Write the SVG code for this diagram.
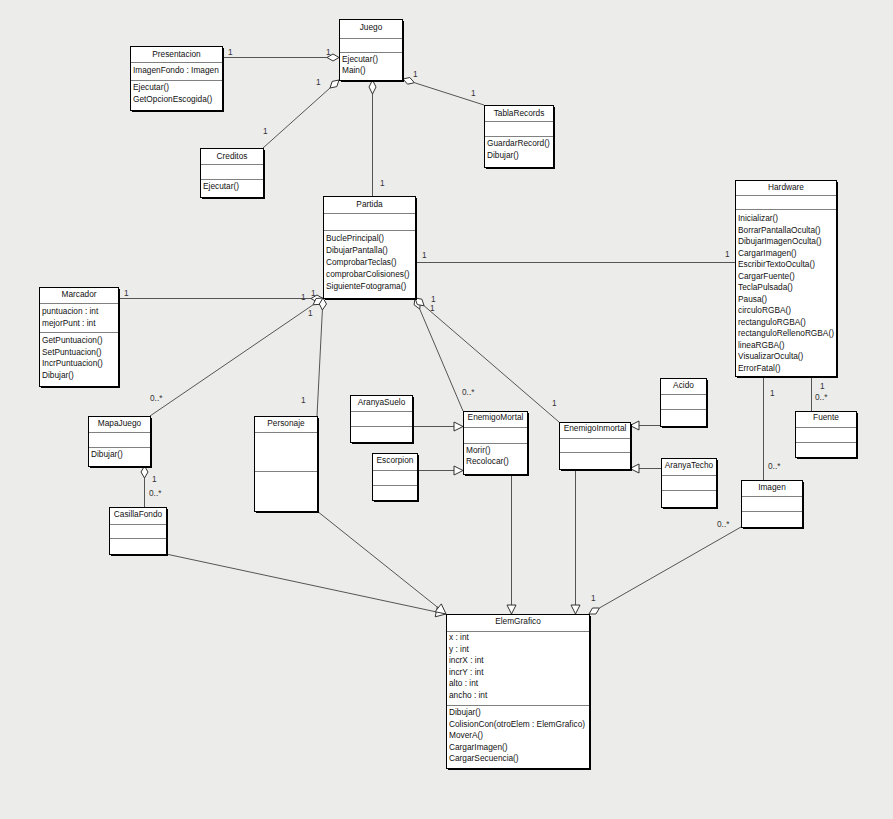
<svg xmlns="http://www.w3.org/2000/svg" width="893" height="819" viewBox="0 0 893 819">
<style>
.bg{fill:#ECECEA}
.sh{fill:#000}
.bx{fill:#fff;stroke:#000;stroke-width:1}
.sp{stroke:#808080;stroke-width:1;fill:none}
.t{font-family:"Liberation Sans",Arial,sans-serif;font-size:8.3px;fill:#111}
.c{text-anchor:middle}
.ln{stroke:#555;stroke-width:1;fill:none}
.dm{fill:#fff;stroke:#333;stroke-width:1}
.tr{fill:#fff;stroke:#333;stroke-width:1}
.lb{font-family:"Liberation Sans",Arial,sans-serif;font-size:8.3px;fill:#333}
</style>
<rect class="bg" x="0" y="0" width="893" height="819"/>

<g id="connectors">
  <line class="ln" x1="222" y1="57.5" x2="327" y2="57.5"/>
  <polygon class="dm" points="339,57.5 333,54 327,57.5 333,61"/>
  <line class="ln" x1="263" y1="148" x2="330" y2="88"/>
  <polygon class="dm" points="339,80 336.8,86.6 330,88 332.2,81.4"/>
  <line class="ln" x1="372.5" y1="94" x2="372.5" y2="196"/>
  <polygon class="dm" points="372.5,80 376,87 372.5,94 369,87"/>
  <line class="ln" x1="414.4" y1="82.7" x2="484" y2="105"/>
  <polygon class="dm" points="403,79 407.6,84.2 414.4,82.7 409.8,77.5"/>
  <line class="ln" x1="415" y1="262.5" x2="735" y2="262.5"/>
  <line class="ln" x1="118" y1="298.5" x2="311" y2="298.5"/>
  <line class="ln" x1="150" y1="416" x2="313.1" y2="304.8"/>
  <line class="ln" x1="322.4" y1="310" x2="317" y2="416"/>
  <polygon class="dm" points="323,298.5 317,295 311,298.5 317,302"/>
  <polygon class="dm" points="323,298 320,304.3 313.1,304.8 316,298.5"/>
  <polygon class="dm" points="323,298 326.5,304 322.4,310 319.3,304"/>
  <line class="ln" x1="419.7" y1="309" x2="463" y2="411"/>
  <line class="ln" x1="424.1" y1="305.8" x2="559" y2="422"/>
  <polygon class="dm" points="415,298 420.5,302.1 419.7,309 414.1,304.9"/>
  <polygon class="dm" points="415,298 421.9,299.2 424.1,305.8 417.3,304.6"/>
  <line class="ln" x1="763.5" y1="376" x2="763.5" y2="480"/>
  <line class="ln" x1="811.5" y1="376" x2="811.5" y2="411"/>
  <line class="ln" x1="144.5" y1="478" x2="144.5" y2="507"/>
  <polygon class="dm" points="144.5,466 148,472 144.5,478 141,472"/>
  <line class="ln" x1="741" y1="527" x2="599.4" y2="608"/>
  <polygon class="dm" points="589,614 595.9,614 599.4,608 592.5,608"/>
  <line class="ln" x1="166" y1="554" x2="436.2" y2="611.9"/>
  <polygon class="tr" points="446,614 435.2,616.8 437.3,607"/>
  <line class="ln" x1="317" y1="511" x2="438.2" y2="607.8"/>
  <polygon class="tr" points="446,614 435.1,611.7 441.3,603.9"/>
  <line class="ln" x1="511.5" y1="474" x2="511.5" y2="605"/>
  <polygon class="tr" points="511.5,614 507,605 516,605"/>
  <line class="ln" x1="575.5" y1="469" x2="575.5" y2="605"/>
  <polygon class="tr" points="575.5,614 571,605 580,605"/>
  <line class="ln" x1="412" y1="426.5" x2="454" y2="426.5"/>
  <polygon class="tr" points="463,426.5 454,422 454,431"/>
  <line class="ln" x1="417" y1="470.5" x2="454" y2="470.5"/>
  <polygon class="tr" points="463,470.5 454,466 454,475"/>
  <line class="ln" x1="660" y1="425.5" x2="639" y2="425.5"/>
  <polygon class="tr" points="630,425.5 639,421 639,430"/>
  <line class="ln" x1="661" y1="468.5" x2="639" y2="468.5"/>
  <polygon class="tr" points="630,468.5 639,464 639,473"/>

  <text class="lb" x="228" y="55">1</text>
  <text class="lb" x="326" y="55">1</text>
  <text class="lb" x="316" y="85">1</text>
  <text class="lb" x="263" y="134">1</text>
  <text class="lb" x="413" y="77">1</text>
  <text class="lb" x="471" y="96">1</text>
  <text class="lb" x="380" y="186">1</text>
  <text class="lb" x="422" y="258">1</text>
  <text class="lb" x="725" y="257">1</text>
  <text class="lb" x="124" y="296">1</text>
  <text class="lb" x="301" y="300">1</text>
  <text class="lb" x="311" y="296">1</text>
  <text class="lb" x="308" y="316">1</text>
  <text class="lb" x="150" y="401">0..*</text>
  <text class="lb" x="301" y="403">1</text>
  <text class="lb" x="152" y="482">1</text>
  <text class="lb" x="149" y="496">0..*</text>
  <text class="lb" x="431" y="302">1</text>
  <text class="lb" x="430" y="311">1</text>
  <text class="lb" x="462" y="395">0..*</text>
  <text class="lb" x="552" y="406">1</text>
  <text class="lb" x="770" y="396">1</text>
  <text class="lb" x="768" y="469">0..*</text>
  <text class="lb" x="820" y="389">1</text>
  <text class="lb" x="815" y="400">0..*</text>
  <text class="lb" x="717" y="527">0..*</text>
  <text class="lb" x="591" y="601">1</text>
</g>

<g id="Juego">
  <rect class="sh" x="341" y="21" width="63" height="61"/>
  <rect class="bx" x="339.5" y="19.5" width="63" height="61"/>
  <line class="sp" x1="340" y1="38.5" x2="402" y2="38.5"/>
  <line class="sp" x1="340" y1="52.5" x2="402" y2="52.5"/>
  <text class="t c" x="371" y="29.5">Juego</text>
  <text class="t" x="342" y="61.5">Ejecutar()</text>
  <text class="t" x="342" y="73">Main()</text>
</g>

<g id="Presentacion">
  <rect class="sh" x="132" y="48" width="92" height="64"/>
  <rect class="bx" x="130.5" y="46.5" width="92" height="64"/>
  <line class="sp" x1="131" y1="62.5" x2="222" y2="62.5"/>
  <line class="sp" x1="131" y1="80.5" x2="222" y2="80.5"/>
  <text class="t c" x="176.5" y="56.5">Presentacion</text>
  <text class="t" x="133" y="73">ImagenFondo : Imagen</text>
  <text class="t" x="133" y="90">Ejecutar()</text>
  <text class="t" x="133" y="101.5">GetOpcionEscogida()</text>
</g>

<g id="Creditos">
  <rect class="sh" x="202" y="150" width="63" height="49"/>
  <rect class="bx" x="200.5" y="148.5" width="63" height="49"/>
  <line class="sp" x1="201" y1="164.5" x2="263" y2="164.5"/>
  <line class="sp" x1="201" y1="179.5" x2="263" y2="179.5"/>
  <text class="t c" x="232" y="158.5">Creditos</text>
  <text class="t" x="203" y="189">Ejecutar()</text>
</g>

<g id="TablaRecords">
  <rect class="sh" x="486" y="107" width="69" height="62"/>
  <rect class="bx" x="484.5" y="105.5" width="69" height="62"/>
  <line class="sp" x1="485" y1="121.5" x2="553" y2="121.5"/>
  <line class="sp" x1="485" y1="136.5" x2="553" y2="136.5"/>
  <text class="t c" x="519" y="115.5">TablaRecords</text>
  <text class="t" x="487" y="146">GuardarRecord()</text>
  <text class="t" x="487" y="157.5">Dibujar()</text>
</g>

<g id="Partida">
  <rect class="sh" x="325" y="198" width="92" height="102"/>
  <rect class="bx" x="323.5" y="196.5" width="92" height="102"/>
  <line class="sp" x1="324" y1="213.5" x2="415" y2="213.5"/>
  <line class="sp" x1="324" y1="230.5" x2="415" y2="230.5"/>
  <text class="t c" x="369.5" y="207">Partida</text>
  <text class="t" x="326" y="241">BuclePrincipal()</text>
  <text class="t" x="326" y="253">DibujarPantalla()</text>
  <text class="t" x="326" y="265">ComprobarTeclas()</text>
  <text class="t" x="326" y="277">comprobarColisiones()</text>
  <text class="t" x="326" y="288.5">SiguienteFotograma()</text>
</g>

<g id="Hardware">
  <rect class="sh" x="737" y="182" width="101" height="196"/>
  <rect class="bx" x="735.5" y="180.5" width="101" height="196"/>
  <line class="sp" x1="736" y1="195.5" x2="836" y2="195.5"/>
  <line class="sp" x1="736" y1="209.5" x2="836" y2="209.5"/>
  <text class="t c" x="786" y="190">Hardware</text>
  <text class="t" x="738" y="221">Inicializar()</text>
  <text class="t" x="738" y="232.5">BorrarPantallaOculta()</text>
  <text class="t" x="738" y="244">DibujarImagenOculta()</text>
  <text class="t" x="738" y="255.5">CargarImagen()</text>
  <text class="t" x="738" y="267">EscribirTextoOculta()</text>
  <text class="t" x="738" y="278.5">CargarFuente()</text>
  <text class="t" x="738" y="290">TeclaPulsada()</text>
  <text class="t" x="738" y="301.5">Pausa()</text>
  <text class="t" x="738" y="313">circuloRGBA()</text>
  <text class="t" x="738" y="324.5">rectanguloRGBA()</text>
  <text class="t" x="738" y="336">rectanguloRellenoRGBA()</text>
  <text class="t" x="738" y="347.5">lineaRGBA()</text>
  <text class="t" x="738" y="359">VisualizarOculta()</text>
  <text class="t" x="738" y="370.5">ErrorFatal()</text>
</g>

<g id="Marcador">
  <rect class="sh" x="41" y="289" width="79" height="99"/>
  <rect class="bx" x="39.5" y="287.5" width="79" height="99"/>
  <line class="sp" x1="40" y1="303.5" x2="118" y2="303.5"/>
  <line class="sp" x1="40" y1="332.5" x2="118" y2="332.5"/>
  <text class="t c" x="79" y="297">Marcador</text>
  <text class="t" x="42" y="314">puntuacion : int</text>
  <text class="t" x="42" y="325.5">mejorPunt : int</text>
  <text class="t" x="42" y="343">GetPuntuacion()</text>
  <text class="t" x="42" y="354.5">SetPuntuacion()</text>
  <text class="t" x="42" y="366">IncrPuntuacion()</text>
  <text class="t" x="42" y="377.5">Dibujar()</text>
</g>

<g id="MapaJuego">
  <rect class="sh" x="90" y="418" width="62" height="50"/>
  <rect class="bx" x="88.5" y="416.5" width="62" height="50"/>
  <line class="sp" x1="89" y1="432.5" x2="150" y2="432.5"/>
  <line class="sp" x1="89" y1="447.5" x2="150" y2="447.5"/>
  <text class="t c" x="119.5" y="426">MapaJuego</text>
  <text class="t" x="91" y="457">Dibujar()</text>
</g>

<g id="CasillaFondo">
  <rect class="sh" x="111" y="509" width="57" height="47"/>
  <rect class="bx" x="109.5" y="507.5" width="57" height="47"/>
  <line class="sp" x1="110" y1="524.5" x2="166" y2="524.5"/>
  <line class="sp" x1="110" y1="538.5" x2="166" y2="538.5"/>
  <text class="t c" x="138" y="516.5">CasillaFondo</text>
</g>

<g id="Personaje">
  <rect class="sh" x="256" y="418" width="63" height="95"/>
  <rect class="bx" x="254.5" y="416.5" width="63" height="95"/>
  <line class="sp" x1="255" y1="432.5" x2="317" y2="432.5"/>
  <line class="sp" x1="255" y1="471.5" x2="317" y2="471.5"/>
  <text class="t c" x="286" y="426">Personaje</text>
</g>

<g id="AranyaSuelo">
  <rect class="sh" x="352" y="397" width="62" height="47"/>
  <rect class="bx" x="350.5" y="395.5" width="62" height="47"/>
  <line class="sp" x1="351" y1="411.5" x2="412" y2="411.5"/>
  <line class="sp" x1="351" y1="426.5" x2="412" y2="426.5"/>
  <text class="t c" x="381.5" y="405">AranyaSuelo</text>
</g>

<g id="Escorpion">
  <rect class="sh" x="374" y="455" width="45" height="47"/>
  <rect class="bx" x="372.5" y="453.5" width="45" height="47"/>
  <line class="sp" x1="373" y1="470.5" x2="417" y2="470.5"/>
  <line class="sp" x1="373" y1="485.5" x2="417" y2="485.5"/>
  <text class="t c" x="395" y="462.5">Escorpion</text>
</g>

<g id="EnemigoMortal">
  <rect class="sh" x="465" y="413" width="64" height="63"/>
  <rect class="bx" x="463.5" y="411.5" width="64" height="63"/>
  <line class="sp" x1="464" y1="427.5" x2="527" y2="427.5"/>
  <line class="sp" x1="464" y1="443.5" x2="527" y2="443.5"/>
  <text class="t c" x="495.5" y="420">EnemigoMortal</text>
  <text class="t" x="466" y="452.5">Morir()</text>
  <text class="t" x="466" y="464">Recolocar()</text>
</g>

<g id="EnemigoInmortal">
  <rect class="sh" x="561" y="424" width="71" height="47"/>
  <rect class="bx" x="559.5" y="422.5" width="71" height="47"/>
  <line class="sp" x1="560" y1="438.5" x2="630" y2="438.5"/>
  <line class="sp" x1="560" y1="452.5" x2="630" y2="452.5"/>
  <text class="t c" x="595" y="431">EnemigoInmortal</text>
</g>

<g id="Acido">
  <rect class="sh" x="662" y="380" width="46" height="48"/>
  <rect class="bx" x="660.5" y="378.5" width="46" height="48"/>
  <line class="sp" x1="661" y1="394.5" x2="706" y2="394.5"/>
  <line class="sp" x1="661" y1="409.5" x2="706" y2="409.5"/>
  <text class="t c" x="683.5" y="388">Acido</text>
</g>

<g id="AranyaTecho">
  <rect class="sh" x="663" y="460" width="55" height="49"/>
  <rect class="bx" x="661.5" y="458.5" width="55" height="49"/>
  <line class="sp" x1="662" y1="475.5" x2="716" y2="475.5"/>
  <line class="sp" x1="662" y1="490.5" x2="716" y2="490.5"/>
  <text class="t c" x="689" y="468">AranyaTecho</text>
</g>

<g id="Fuente">
  <rect class="sh" x="797" y="413" width="61" height="46"/>
  <rect class="bx" x="795.5" y="411.5" width="61" height="46"/>
  <line class="sp" x1="796" y1="427.5" x2="856" y2="427.5"/>
  <line class="sp" x1="796" y1="442.5" x2="856" y2="442.5"/>
  <text class="t c" x="826" y="420">Fuente</text>
</g>

<g id="Imagen">
  <rect class="sh" x="743" y="482" width="61" height="47"/>
  <rect class="bx" x="741.5" y="480.5" width="61" height="47"/>
  <line class="sp" x1="742" y1="496.5" x2="802" y2="496.5"/>
  <line class="sp" x1="742" y1="511.5" x2="802" y2="511.5"/>
  <text class="t c" x="772" y="490">Imagen</text>
</g>

<g id="ElemGrafico">
  <rect class="sh" x="448" y="616" width="143" height="154"/>
  <rect class="bx" x="446.5" y="614.5" width="143" height="154"/>
  <line class="sp" x1="447" y1="631.5" x2="589" y2="631.5"/>
  <line class="sp" x1="447" y1="705.5" x2="589" y2="705.5"/>
  <text class="t c" x="518" y="624">ElemGrafico</text>
  <text class="t" x="449" y="640">x : int</text>
  <text class="t" x="449" y="651.5">y : int</text>
  <text class="t" x="449" y="663">incrX : int</text>
  <text class="t" x="449" y="674.5">incrY : int</text>
  <text class="t" x="449" y="686">alto : int</text>
  <text class="t" x="449" y="697.5">ancho : int</text>
  <text class="t" x="449" y="715">Dibujar()</text>
  <text class="t" x="449" y="726.5">ColisionCon(otroElem : ElemGrafico)</text>
  <text class="t" x="449" y="738">MoverA()</text>
  <text class="t" x="449" y="749.5">CargarImagen()</text>
  <text class="t" x="449" y="761">CargarSecuencia()</text>
</g>
</svg>
